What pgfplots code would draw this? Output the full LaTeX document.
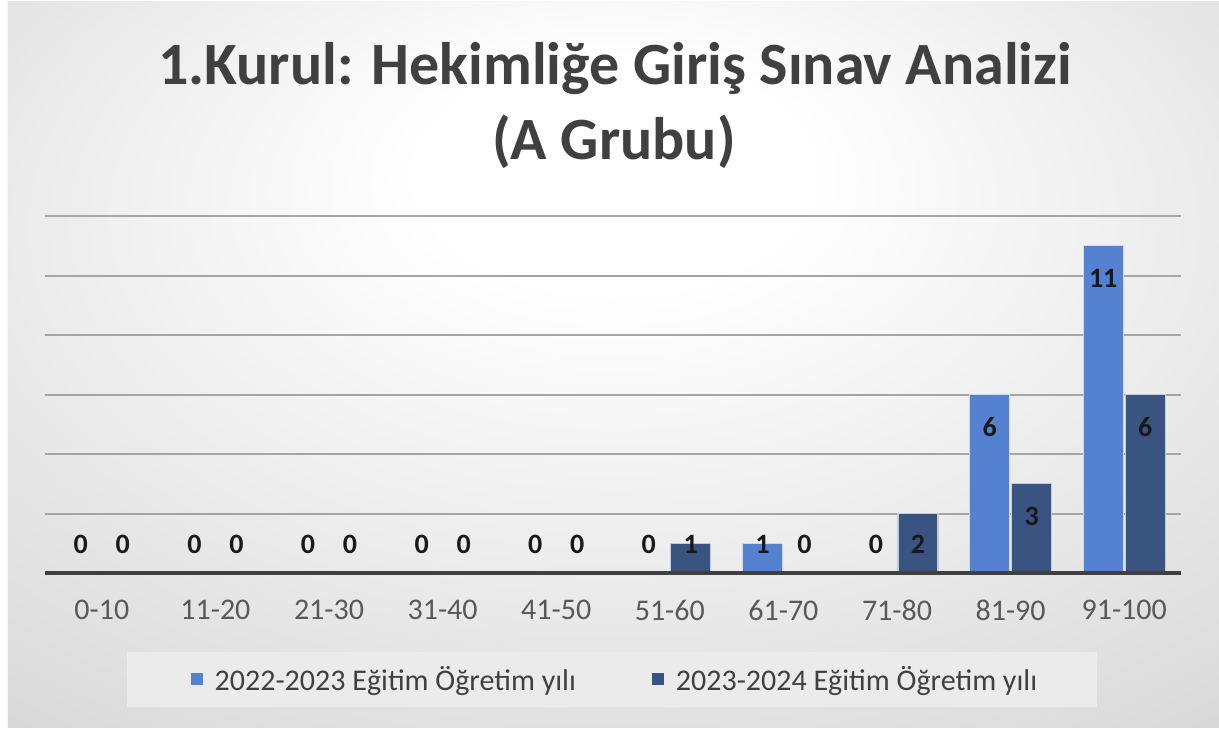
\documentclass[border=0pt]{standalone}
\usepackage{pgfplots}
\usepackage{pgfplotstable}
\pgfplotsset{compat=1.18}
\usepackage{fontspec}
\setmainfont{Carlito}
\definecolor{lb}{RGB}{84,130,208}
\definecolor{db}{RGB}{58,84,130}
\definecolor{gridc}{RGB}{165,165,165}
\definecolor{titlec}{RGB}{64,64,64}
\definecolor{tickc}{RGB}{89,89,89}
\definecolor{basec}{RGB}{64,64,64}
\pgfdeclareradialshading{bgshade}{\pgfpoint{0bp}{15bp}}{color(0bp)=(white); color(8bp)=(white); color(65bp)=(black!27)}
\pgfplotstableread{
x a b
0 0 0
1 0 0
2 0 0
3 0 0
4 0 0
5 0 1
6 1 0
7 0 2
8 6 3
9 11 6
}\data
\begin{document}
\begin{tikzpicture}[x=1pt,y=1pt]
\fill[white] (-45,-156) rectangle (1174,573);
\shade[shading=bgshade] (-37,-154) rectangle (1174,571);
\fill[black!8] (82,-134) rectangle (1052,-79);
\begin{axis}[
  at={(0,0)}, anchor=south west,
  scale only axis, width=1136pt, height=357pt,
  xmin=-0.5, xmax=9.5, ymin=0, ymax=12,
  axis line style={draw=none},
  ytick={2,4,6,8,10,12}, yticklabels={},
  ymajorgrids, grid style={gridc, line width=2pt},
  major tick length=0pt,
  xtick={0,1,2,3,4,5,6,7,8,9},
  xticklabels={0-10,11-20,21-30,31-40,41-50,51-60,61-70,71-80,81-90,91-100},
  xticklabel style={font=\fontsize{30}{36}\selectfont, text=tickc, inner sep=0pt, anchor=north, yshift=-27pt},
  /pgf/number format/assume math mode=true,
  legend style={at={(0.5026,-0.297)}, anchor=center, draw=none, fill=none,
    legend columns=2, font=\fontsize{30}{36}\selectfont, text=titlec,
    nodes={inner sep=4pt},
    /tikz/every even column/.append style={column sep=72pt}},
  clip=false,
]
\addplot[ybar, bar width=40pt, bar shift=-21pt, fill=lb, draw=white!70!lb, line width=1.2pt,
  legend image code/.code={\fill[fill=lb, draw=none] (0pt,-6pt) rectangle (12pt,6pt);},
  nodes near coords={\fontsize{28}{32}\selectfont\bfseries\pgfmathprintnumber{\pgfplotspointmeta}},
  visualization depends on={(max(\thisrow{a}-1.1,0.95)-\thisrow{a})*29.75 \as \lshift},
  every node near coord/.append style={text=black!90, anchor=center, yshift=\lshift pt, xshift=-21pt}
] table[x=x, y=a] {\data};
\addlegendentry{\hspace{8pt}2022-2023 Eğitim Öğretim yılı}
\addplot[ybar, bar width=40pt, bar shift=21pt, fill=db, draw=white!70!db, line width=1.2pt,
  legend image code/.code={\fill[fill=db, draw=none] (0pt,-6pt) rectangle (12pt,6pt);},
  nodes near coords={\fontsize{28}{32}\selectfont\bfseries\pgfmathprintnumber{\pgfplotspointmeta}},
  visualization depends on={(max(\thisrow{b}-1.1,0.95)-\thisrow{b})*29.75 \as \lshift},
  every node near coord/.append style={text=black!90, anchor=center, yshift=\lshift pt, xshift=21pt}
] table[x=x, y=b] {\data};
\addlegendentry{\hspace{8pt}2023-2024 Eğitim Öğretim yılı}
\draw[basec, line width=4pt] (axis cs:-0.5,0) -- (axis cs:9.5,0);
\end{axis}
\node[font=\bfseries\fontsize{60}{70}\selectfont, text=titlec, anchor=base] at (570,488) {1.Kurul: Hekimliğe Giriş Sınav Analizi};
\node[font=\bfseries\fontsize{60}{70}\selectfont, text=titlec, anchor=base] at (569,413) {(A Grubu)};
\end{tikzpicture}
\end{document}
